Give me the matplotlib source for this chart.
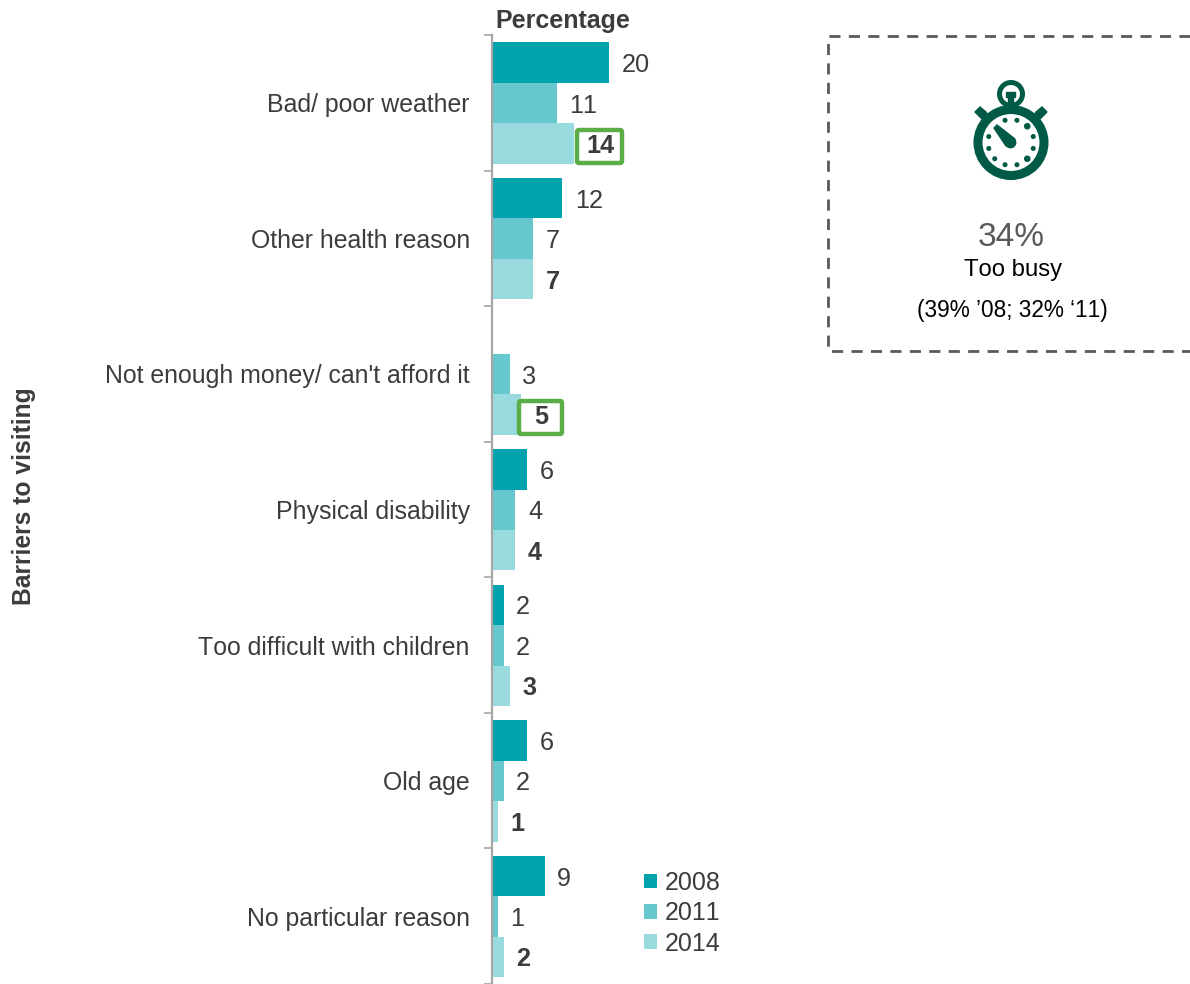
import numpy as np
import matplotlib
matplotlib.use('Agg')
import matplotlib.pyplot as plt
from matplotlib.patches import Circle, FancyBboxPatch, Polygon, Rectangle

plt.rcParams['font.family'] = ['Liberation Sans', 'DejaVu Sans']
plt.rcParams['text.kerning_factor'] = 10  # the reference has no kerning on "11"

# Data
barriers = ['Bad/ poor weather', 'Other health reason', "Not enough money/ can't afford it",
            'Physical disability', 'Too difficult with children', 'Old age', 'No particular reason']
years = ['2008', '2011', '2014']
v2008 = [20, 12, np.nan, 6, 2, 6, 9]
v2011 = [11, 7, 3, 4, 2, 2, 1]
v2014 = [14, 7, 5, 4, 3, 1, 2]
colours = ['#00A3AD', '#66C8CE', '#99DADE']

W, H = 1190, 984
TEXT = '#3C3C3C'
fig = plt.figure(figsize=(W / 100, H / 100), dpi=100)

# Bars
ax = fig.add_axes([492 / W, 0, (W - 492) / W, 1 - 35 / H])
ax.set_xlim(0, (W - 492) / 5.87)
ax.set_ylim(len(barriers) - 0.5, -0.5)
y = np.arange(len(barriers))
h = 0.298
series = [v2008, v2011, v2014]
for i, vals in enumerate(series):
    pos = y + (i - 1) * h + 0.002
    ax.barh(pos, vals, height=h, color=colours[i], label=years[i])
    for p, v in zip(pos, vals):
        if np.isnan(v):
            continue
        ax.annotate('%d' % v, (v, p), xytext=(9, 0), textcoords='offset points',
                    va='center_baseline', ha='left', fontsize=18.2, color=TEXT,
                    fontweight='bold' if i == 2 else 'normal')

for s in ['top', 'right', 'bottom']:
    ax.spines[s].set_visible(False)
ax.spines['left'].set_color('#A6A6A6')
ax.spines['left'].set_linewidth(1.6)
ax.set_xticks([])
ax.set_yticks(y)
ax.set_yticklabels(barriers, fontsize=17.9, color=TEXT)
ax.set_yticks(np.arange(len(barriers) + 1) - 0.5, minor=True)
ax.tick_params(axis='y', which='major', length=0, pad=16)
ax.tick_params(axis='y', which='minor', length=6, width=1.2, color='#A6A6A6')

ax.legend(loc='lower left', bbox_to_anchor=(152 / (W - 492), 0.03), frameon=False, fontsize=18,
          handlelength=0.52, handleheight=0.52, handletextpad=0.3, labelspacing=0.25,
          borderpad=0, borderaxespad=0, labelcolor=TEXT)

# Everything else sits in picture pixels
over = fig.add_axes([0, 0, 1, 1], facecolor='none')
over.set_xlim(0, W)
over.set_ylim(H, 0)
over.axis('off')

over.text(562.5, 21, 'Percentage', ha='center', va='center', fontsize=18, fontweight='bold', color=TEXT)
over.text(24, 496, 'Barriers to visiting', rotation=90, ha='center', va='center',
          fontsize=17.7, fontweight='bold', color=TEXT)

# Green highlight boxes
for x0, y0, bw, bh in [(577, 130, 45, 33), (519, 401, 43, 33)]:
    over.add_patch(FancyBboxPatch((x0, y0), bw, bh, boxstyle='round,pad=0,rounding_size=2',
                                  fill=False, ec='#5BAD47', lw=3.2))

# Dashed call-out
dash = dict(color='#595959', lw=2, dashes=(4, 3))
over.plot([1190, 828, 828, 1190], [36, 36, 351, 351], **dash)
over.text(1011, 237, '34%', ha='center', va='center', fontsize=24, color='#595959')
over.text(1013, 270, 'Too busy', ha='center', va='center', fontsize=17.2, color='black')
over.text(1012, 310, '(39% \u201908; 32% \u201811)', ha='center', va='center', fontsize=16.3, color='black')

# Stopwatch icon
G = '#005A46'
cx, cy = 1011, 142.5
over.add_patch(Circle((cx, cy), 33, fill=False, ec=G, lw=6.5))
over.add_patch(Circle((1011, 94), 11.5, fill=False, ec=G, lw=3.6))
over.add_patch(Rectangle((1006, 92), 9, 5, color=G))
over.add_patch(Rectangle((1008, 96), 5, 10, color=G))
for side in (-1, 1):
    over.add_patch(Polygon([(cx + side * 36, 112), (cx + side * 31, 107), (cx + side * 25, 112),
                            (cx + side * 24, 114), (cx + side * 29, 119), (cx + side * 31, 117)],
                           color=G))
over.add_patch(Polygon([(994, 128), (997, 125), (1015, 139), (1006, 146)], color=G))
over.add_patch(Circle((1010.5, 142.5), 5.2, color=G))
for deg in range(15, 360, 30):
    if deg == 225:
        continue
    a = np.deg2rad(deg)
    r = 2.6 if deg in (45, 315) else 1.8
    over.add_patch(Circle((cx + 23 * np.cos(a), cy + 23 * np.sin(a)), r, color=G))

fig.savefig('out.png', dpi=100)
